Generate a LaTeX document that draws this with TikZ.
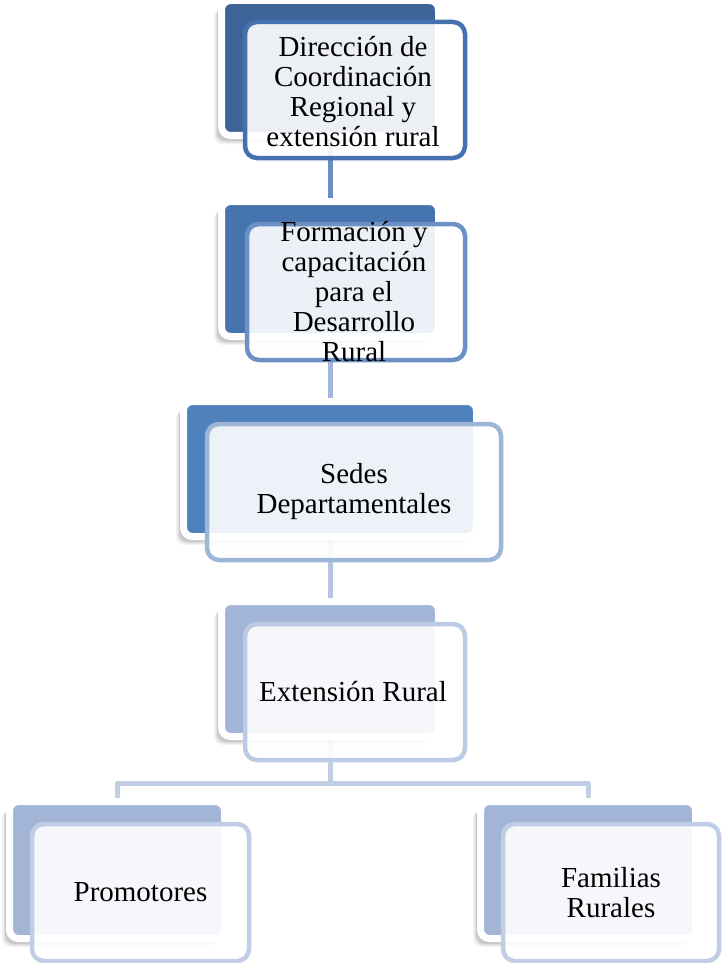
\documentclass[tikz,border=0pt]{standalone}
\usepackage{fontspec}
\setmainfont{Liberation Serif}
\usetikzlibrary{shadows}
\pgfdeclarelayer{bg}
\pgfsetlayers{bg,main}
\definecolor{bA}{HTML}{3E6497}
\definecolor{bB}{HTML}{4674AF}
\definecolor{bC}{HTML}{4F81BD}
\definecolor{bD}{HTML}{A2B5D7}
\definecolor{fA}{HTML}{4571B0}
\definecolor{fB}{HTML}{6E91C5}
\definecolor{fC}{HTML}{9FB5D8}
\definecolor{fD}{HTML}{BCCAE3}
\definecolor{fE}{HTML}{C0CDE4}
\definecolor{cA}{HTML}{6A8EC6}
\definecolor{cB}{HTML}{A2B6DA}
\definecolor{cC}{HTML}{B5C5E0}
\definecolor{cD}{HTML}{C2CEE4}
\tikzset{
  backbox/.style={rectangle, rounded corners=9pt, inner sep=0pt, draw=white, line width=7pt,
    minimum width=217pt, minimum height=135pt,
    drop shadow={shadow xshift=-7.5pt, shadow yshift=-8.5pt, opacity=0.05, fill=black},
    drop shadow={shadow xshift=-6pt, shadow yshift=-7pt, opacity=0.08, fill=black},
    drop shadow={shadow xshift=-4.5pt, shadow yshift=-5.5pt, opacity=0.10, fill=black}},
  frontbox/.style={rectangle, rounded corners=12pt, inner sep=0pt, line width=4.5pt,
    fill=white, fill opacity=0.9, minimum width=220pt, minimum height=136pt},
  txt/.style={align=center, font=\fontsize{29pt}{30pt}\selectfont, inner sep=0pt, text=black},
  conn/.style={line width=5pt}
}
\begin{document}
\begin{tikzpicture}[x=1pt,y=-1pt]
\useasboundingbox (0,0) rectangle (721,963);
% back boxes
\node[backbox, fill=bA] (b1) at (330,68) {};
\node[backbox, fill=bB] (b2) at (330,269) {};
\node[backbox, fill=bC, minimum width=293pt] (b3) at (330,469) {};
\node[backbox, fill=bD] (b4) at (330,669) {};
\node[backbox, fill=bD, minimum width=215pt, minimum height=137pt] (b5) at (117,870) {};
\node[backbox, fill=bD, minimum width=215pt, minimum height=137pt] (b6) at (588,870) {};
\coordinate (j) at (330,783);
% connectors (behind)
\begin{pgfonlayer}{bg}
\fill[white] (0,0) rectangle (721,963);
\draw[conn, cA] (b1.center) -- (b2.center);
\draw[conn, cB] (b2.center) -- (b3.center);
\draw[conn, cC] (b3.center) -- (b4.center);
\draw[conn, cD] (b4.center) -- (j);
\draw[conn, cD, line join=round] (b5.center) -- (b5.center |- j) -- (b6.center |- j) -- (b6.center);
\end{pgfonlayer}
% front boxes
\node[frontbox, draw=fA] (f1) at (355,90) {};
\node[frontbox, draw=fB, minimum width=218pt] (f2) at (356,292) {};
\node[frontbox, draw=fC, minimum width=294pt] (f3) at (354,492) {};
\node[frontbox, draw=fD] (f4) at (355,692) {};
\node[frontbox, draw=fE, minimum width=217pt, minimum height=137pt] (f5) at (140.5,892.5) {};
\node[frontbox, draw=fE, minimum width=216pt, minimum height=137pt] (f6) at (611,892.5) {};
% texts
\node[txt] (t1) at ([xshift=-2pt,yshift=-1.5pt]f1.center) {Dirección de\\Coordinación\\Regional y\\extensión rural};
\node[txt] (t2) at ([xshift=-2pt]f2.center) {Formación y\\capacitación\\para el\\Desarrollo\\Rural};
\node[txt] (t3) at (f3.center) {Sedes\\Departamentales};
\node[txt] (t4) at ([xshift=-2pt]f4.center) {Extensión Rural};
\node[txt] (t5) at (f5.center) {Promotores};
\node[txt] (t6) at (f6.center) {Familias\\Rurales};
\end{tikzpicture}
\end{document}
